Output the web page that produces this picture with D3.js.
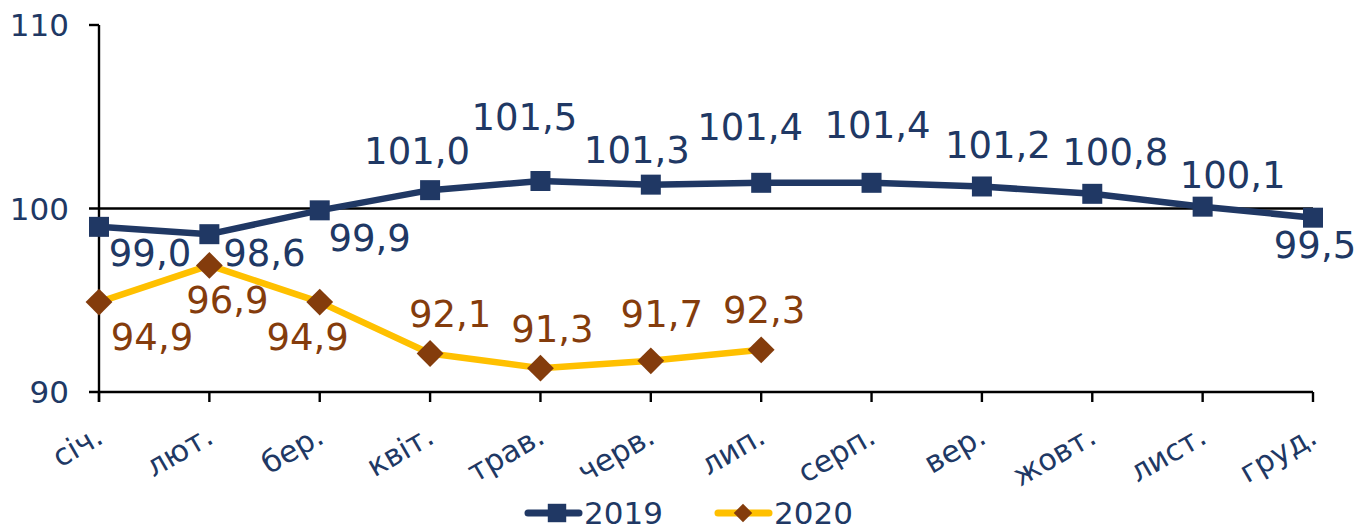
<!DOCTYPE html>
<html><head><meta charset="utf-8">
<script src="https://cdn.jsdelivr.net/npm/d3@7"></script>
<style>
body{margin:0;background:#fff;}
svg{display:block;font-family:"DejaVu Sans",Verdana,sans-serif;}
</style></head>
<body>
<svg id="c" width="1360" height="527"></svg>
<script>
const months = ["січ.","лют.","бер.","квіт.","трав.","черв.","лип.","серп.","вер.","жовт.","лист.","груд."];
const values2019 = [99.0,98.6,99.9,101.0,101.5,101.3,101.4,101.4,101.2,100.8,100.1,99.5];
const values2020 = [94.9,96.9,94.9,92.1,91.3,91.7,92.3];
const yTicks = [90,100,110];
const seriesNames = ["2019","2020"];
// label centre offsets (dx, dy) relative to each point
const off2019 = [[51,26],[55,18],[50,27],[-13,-40],[-16,-64],[-14,-35],[-11,-56],[6,-58],[16,-42],[23,-42],[30,-32],[2,27]];
const off2020 = [[53,34],[18,34],[-12,34],[20,-40],[12,-40],[11,-47],[3,-40]];

const fmt = v => v.toFixed(1).replace(".", ",");
const C19 = "#203864", C20L = "#ffc000", C20M = "#843c0c";
const svg = d3.select("#c");
const x = d3.scalePoint().domain(months).range([99,1313]);
const y = d3.scaleLinear().domain([90,110]).range([392,25]);

// axes
const ax = svg.append("g").attr("stroke","#000").attr("stroke-width",2.4);
ax.append("line").attr("x1",99).attr("x2",99).attr("y1",y(110)).attr("y2",y(90)+10);
yTicks.forEach(t=>{
  ax.append("line").attr("x1",89).attr("x2",t===110?99:x(months[11])).attr("y1",y(t)).attr("y2",y(t));
});
months.forEach(m=>{
  ax.append("line").attr("x1",x(m)).attr("x2",x(m)).attr("y1",y(90)).attr("y2",y(90)+10);
});
svg.append("g").selectAll("text").data(yTicks).join("text")
  .attr("x",69).attr("y",d=>y(d)+11).attr("text-anchor","end")
  .attr("font-size",31).attr("fill",C19).text(d=>d);
svg.append("g").selectAll("text").data(months).join("text")
  .attr("transform",d=>`translate(${x(d)+6},${442}) rotate(-30)`)
  .attr("text-anchor","end").attr("font-size",30).attr("fill",C19).text(d=>d);

const line = d3.line().x((d,i)=>x(months[i])).y(d=>y(d));
svg.append("path").datum(values2019).attr("d",line).attr("fill","none")
  .attr("stroke",C19).attr("stroke-width",6.5).attr("stroke-linejoin","round");
svg.append("path").datum(values2020).attr("d",line).attr("fill","none")
  .attr("stroke",C20L).attr("stroke-width",6.5).attr("stroke-linejoin","round");

const sq = d3.symbol().type(d3.symbolSquare).size(400);
svg.append("g").selectAll("path").data(values2019).join("path")
  .attr("d",sq).attr("fill",C19)
  .attr("transform",(d,i)=>`translate(${x(months[i])},${y(d)})`);
const dm = d3.symbol().type(d3.symbolSquare).size(360);
svg.append("g").selectAll("path").data(values2020).join("path")
  .attr("d",dm).attr("fill",C20M)
  .attr("transform",(d,i)=>`translate(${x(months[i])},${y(d)}) rotate(45)`);

svg.append("g").selectAll("text").data(values2019).join("text")
  .attr("x",(d,i)=>x(months[i])+off2019[i][0]).attr("y",(d,i)=>y(d)+off2019[i][1]+13.5)
  .attr("text-anchor","middle").attr("font-size",37).attr("fill",C19).text(fmt);
svg.append("g").selectAll("text").data(values2020).join("text")
  .attr("x",(d,i)=>x(months[i])+off2020[i][0]).attr("y",(d,i)=>y(d)+off2020[i][1]+13.5)
  .attr("text-anchor","middle").attr("font-size",37).attr("fill",C20M).text(fmt);

// legend
const lg = svg.append("g");
lg.append("line").attr("x1",528).attr("x2",579).attr("y1",513).attr("y2",513).attr("stroke",C19).attr("stroke-width",7).attr("stroke-linecap","round");
lg.append("path").attr("d",d3.symbol().type(d3.symbolSquare).size(340)).attr("fill",C19).attr("transform","translate(557,513)");
lg.append("text").attr("x",584).attr("y",524).attr("font-size",31).attr("fill",C19).text(seriesNames[0]);
lg.append("line").attr("x1",718).attr("x2",769).attr("y1",513).attr("y2",513).attr("stroke",C20L).attr("stroke-width",7).attr("stroke-linecap","round");
lg.append("path").attr("d",d3.symbol().type(d3.symbolSquare).size(170)).attr("fill",C20M).attr("transform","translate(743,513) rotate(45)");
lg.append("text").attr("x",774).attr("y",524).attr("font-size",31).attr("fill",C19).text(seriesNames[1]);
</script>
</body></html>
